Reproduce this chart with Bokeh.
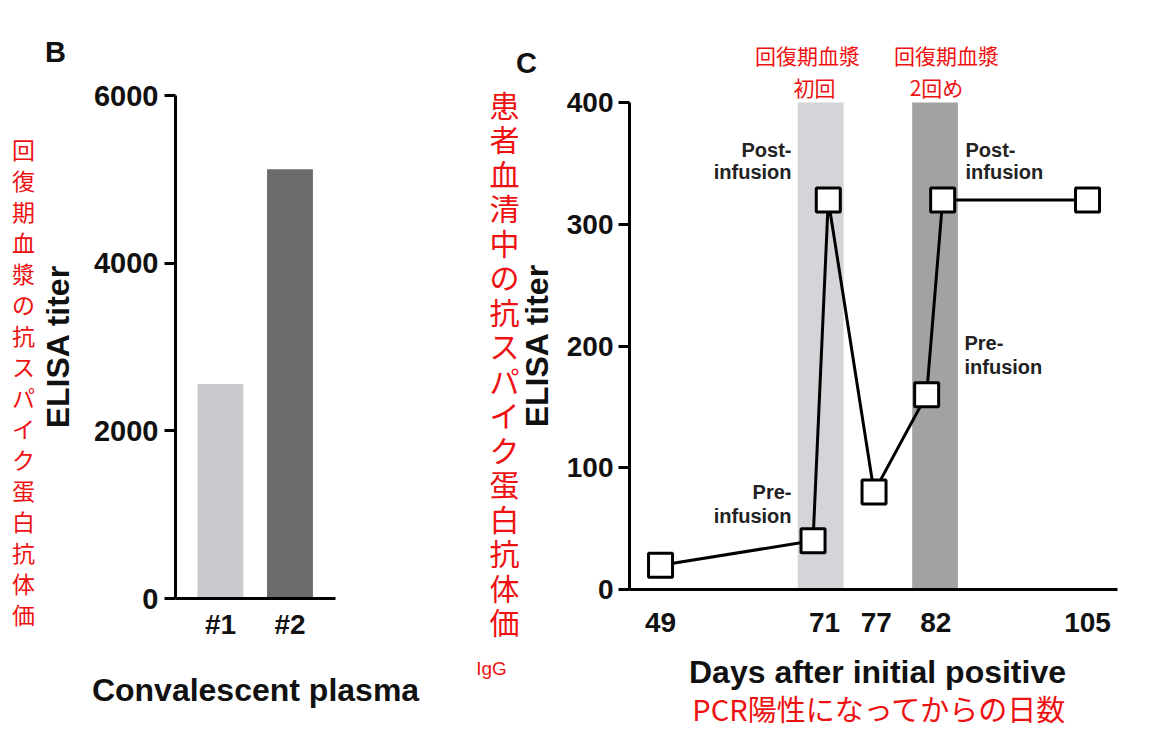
import math
from bokeh.plotting import figure
from bokeh.models import Range1d, Label, BoxAnnotation, FixedTicker, LinearAxis
from bokeh.embed import file_html
from bokeh.resources import INLINE

# ---------------- data ----------------
plasma_cats = ["#1", "#2"]
plasma_titer = [2560, 5120]
plasma_colors = ["#cbcbcf", "#6b6b6d"]
b_yticks = [0, 2000, 4000, 6000]

# panel C: plotted positions along the (uneven) day axis, and ELISA titers
day_pos = [49, 69, 71, 77, 83.9, 86, 105]
titer_c = [20, 40, 320, 80, 160, 320, 320]
day_tick_pos = [49, 70.5, 77.3, 85.1, 105]
day_tick_lab = ["49", "71", "77", "82", "105"]
c_yticks = [0, 100, 200, 300, 400]
band1 = (67.0, 73.0)   # first convalescent plasma infusion
band2 = (82.0, 88.0)   # second infusion

FONT = "Liberation Sans"
JP = "Noto Sans CJK JP"
RED = "#ee1111"
INK = "#111111"

# ---------------- canvas (page pixel coordinates) ----------------
W, H = 1160, 740
p = figure(width=W, height=H, x_range=Range1d(0, W), y_range=Range1d(H, 0),
           x_axis_type=None, y_axis_type=None, min_border=0,
           output_backend="svg", toolbar_location=None)
p.outline_line_color = None
p.background_fill_color = "white"
p.border_fill_color = "white"

# panel frames in page pixels and their data spans
B_L, B_R, B_T, B_B = 175, 335, 95, 598
C_L, C_R, C_T, C_B = 629, 1117, 102, 589
BX = (-0.147, 2.155)
BY = (0, 6000)
CX = (44.93, 108.93)
CY = (0, 400)


def ext_x(L, R, d0, d1):
    k = (d1 - d0) / (R - L)
    return Range1d(d0 - L * k, d0 + (W - L) * k)


def ext_y(T, Bt, d0, d1):
    k = (d1 - d0) / (Bt - T)
    return Range1d(d0 - (H - Bt) * k, d0 + Bt * k)


p.extra_x_ranges = {"bx": ext_x(B_L, B_R, *BX), "cx": ext_x(C_L, C_R, *CX)}
p.extra_y_ranges = {"by": ext_y(B_T, B_B, *BY), "cy": ext_y(C_T, C_B, *CY)}


def axis(xr, yr, loc, bounds, ticks, side, size, tick_out, standoff, overrides=None):
    ax = LinearAxis(x_range_name=xr, y_range_name=yr, fixed_location=loc,
                    bounds=bounds, ticker=FixedTicker(ticks=ticks))
    ax.axis_line_width = 3
    ax.axis_line_color = "black"
    ax.major_tick_line_width = 3
    ax.major_tick_line_color = "black"
    ax.major_tick_out = tick_out
    ax.major_tick_in = 0
    ax.minor_tick_line_color = None
    ax.major_label_text_font = FONT
    ax.major_label_text_font_style = "bold"
    ax.major_label_text_font_size = size
    ax.major_label_text_color = INK
    ax.major_label_standoff = standoff
    if overrides:
        ax.major_label_overrides = overrides
    p.add_layout(ax, side)
    return ax


# ---------------- panel B: bars ----------------
b_x = [i + 0.5 for i in range(len(plasma_cats))]
p.vbar(x=b_x, top=plasma_titer, bottom=0, width=0.66, fill_color=plasma_colors,
       line_color=None, x_range_name="bx", y_range_name="by")
axis("bx", "by", BY[0], BX, b_x, "below", "28px", 0, 10,
     {x: c for x, c in zip(b_x, plasma_cats)})
axis("bx", "by", BX[0], BY, b_yticks, "left", "29px", 11, 6)

# ---------------- panel C: line ----------------
for (l, r), col in ((band1, "#d5d5d9"), (band2, "#a2a2a4")):
    p.add_layout(BoxAnnotation(left=l, right=r, bottom=CY[0], top=CY[1],
                               fill_color=col, fill_alpha=1, line_color=None,
                               level="underlay", x_range_name="cx", y_range_name="cy"))
p.line(day_pos, titer_c, line_color="black", line_width=3,
       x_range_name="cx", y_range_name="cy")
p.scatter(day_pos, titer_c, marker="square", size=24, fill_color="white",
          line_color="black", line_width=3, x_range_name="cx", y_range_name="cy")
axis("cx", "cy", CY[0], CX, day_tick_pos, "below", "28px", 0, 23,
     {t: l for t, l in zip(day_tick_pos, day_tick_lab)})
axis("cx", "cy", CX[0], CY, c_yticks, "left", "28px", 11, 5)


# ---------------- texts (page pixels) ----------------
def txt(text, x, y, size, color=INK, font=FONT, style="bold", align="center",
        baseline="middle", angle=0.0):
    p.add_layout(Label(x=x, y=y, text=text, text_font=font, text_font_size=size,
                       text_color=color, text_font_style=style, text_align=align,
                       text_baseline=baseline, angle=angle))


# panel B
txt("B", 55, 51, "29px")
txt("ELISA titer", 57, 346, "32px", angle=math.pi / 2)
txt("Convalescent plasma", 255, 689, "32px")
for i, ch in enumerate("回復期血漿の抗スパイク蛋白抗体価"):
    txt(ch, 23, 148 + i * 31.0, "23px", color=RED, font=JP, style="normal")

# panel C
txt("C", 526, 62, "29px")
txt("ELISA titer", 536, 345, "32px", angle=math.pi / 2)
txt("Days after initial positive", 877, 671, "32px")
txt("PCR陽性になってからの日数", 879, 707, "29px", color=RED, font=JP, style="normal")
for i, ch in enumerate("患者血清中の抗スパイク蛋白抗体価"):
    txt(ch, 504, 103 + i * 34.5, "30px", color=RED, font=JP, style="normal")
txt("IgG", 491, 668, "19px", color=RED, style="normal")
txt("回復期血漿", 807, 54, "21px", color=RED, font=JP, style="normal")
txt("初回", 814, 86, "21px", color=RED, font=JP, style="normal")
txt("回復期血漿", 946, 54, "21px", color=RED, font=JP, style="normal")
txt("2回め", 936, 86, "21px", color=RED, font=JP, style="normal")
for (s, x, y, al) in [("Post-", 791, 149, "right"), ("infusion", 791, 171, "right"),
                      ("Pre-", 791, 491, "right"), ("infusion", 791, 515, "right"),
                      ("Post-", 965, 149, "left"), ("infusion", 965, 171, "left"),
                      ("Pre-", 964, 342, "left"), ("infusion", 964, 366, "left")]:
    txt(s, x, y, "20px", color="#222222", align=al)

open("out.html", "w").write(file_html(p, INLINE))
